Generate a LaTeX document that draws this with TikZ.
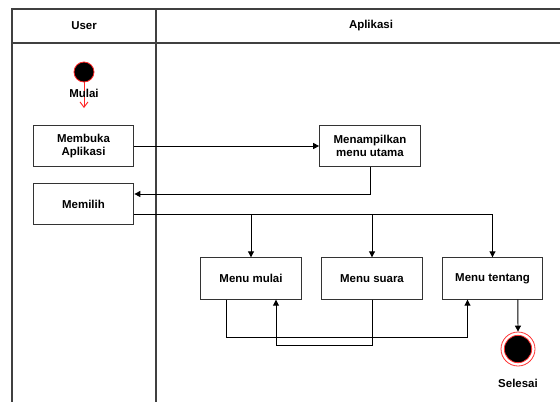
\documentclass[tikz,border=0pt]{standalone}
\usepackage{fontspec}
\setmainfont{Liberation Sans}
\usetikzlibrary{arrows.meta,positioning}
\begin{document}
\begin{tikzpicture}[x=0.75pt,y=-0.75pt,
  lane/.style={draw=black!75,line width=1pt},
  act/.style={draw=black!80,line width=0.8pt,minimum width=75.5pt,minimum height=31pt,inner sep=0pt,align=center,font=\fontsize{8.6pt}{10pt}\selectfont\bfseries},
  lbl/.style={font=\fontsize{8.6pt}{10pt}\selectfont\bfseries,inner sep=0pt},
  arr/.style={draw=black,line width=0.7pt,-{Triangle[length=4.5pt,width=4.5pt]}},
  ln/.style={draw=black,line width=0.7pt}]
\useasboundingbox (0,0) rectangle (560,401);
\begin{scope}
\clip (0,0) rectangle (560,401);
\draw[lane] (12,9) rectangle (590,430);
\draw[lane] (12,43) -- (590,43);
\draw[lane] (156,9) -- (156,430);
\end{scope}
\node[lbl] (hu) at (84,26) {User};
\node[lbl] (ha) at (371,26) {Aplikasi};
% start
\node[circle,fill=black,draw=red!85,line width=0.6pt,minimum size=15pt,inner sep=0pt] (start) at (84,72) {};
\coordinate (sa) at (84,108);
\draw[draw=red!85,line width=0.7pt,-{Straight Barb[length=4pt,width=6pt]}] (start.south) -- (sa);
\node[lbl] (mulai) at (84,93) {Mulai};
% activities
\node[act] (mb) at (83.5,146) {Membuka\\Aplikasi};
\node[act] (mp) at (83.5,204) {Memilih};
\node[act] (mt) at (370,146) {Menampilkan\\menu utama};
\node[act] (m1) at (251,278.5) {Menu mulai};
\node[act] (m2) at (372,278.5) {Menu suara};
\node[act] (m3) at (492.5,278.5) {Menu tentang};
% end
\node[circle,draw=red!80,line width=0.6pt,minimum size=25.5pt,inner sep=0pt] (end) at (518,349) {};
\node[circle,fill=black,draw=red!80,line width=0.6pt,minimum size=20.5pt,inner sep=0pt] (endin) at (518,349) {};
\node[lbl] (sel) at (518,383) {Selesai};
% connectors
\draw[arr] (mb.east) -- (mt.west);
\draw[arr] (mt.south) |- ([yshift=7.5pt]mp.east);
\coordinate (br) at ([yshift=-7.5pt]mp.east);
\draw[arr] (br) -| (m3.north);
\draw[arr] (br -| m1.north) -- (m1.north);
\draw[arr] (br -| m2.north) -- (m2.north);
\draw[arr] ([xshift=-18.75pt]m1.south) -- ++(0,37.5) -| ([xshift=-18.75pt]m3.south);
\draw[arr] (m2.south) -- ++(0,45.5) -| ([xshift=18.75pt]m1.south);
\draw[arr] ([xshift=19pt]m3.south) -- (end.north);
\end{tikzpicture}
\end{document}
